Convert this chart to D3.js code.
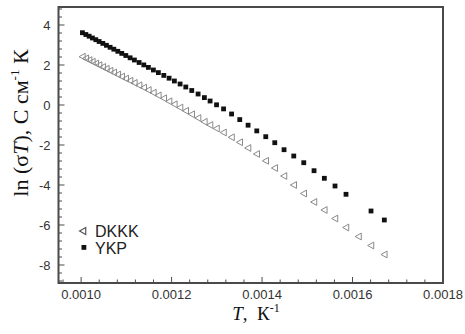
<!DOCTYPE html>
<html>
<head>
<meta charset="utf-8">
<script src="https://cdn.jsdelivr.net/npm/d3@7"></script>
<style>
  html, body { margin: 0; padding: 0; background: #fff; }
  svg { display: block; }
</style>
</head>
<body>
<div id="chart"></div>
<script>
// reciprocal temperature, 1/T (K^-1)
const invT = [
  0.0010029, 0.0010104, 0.0010177, 0.0010250, 0.0010325, 0.0010398, 0.0010480,
  0.0010559, 0.0010641, 0.0010723, 0.0010811, 0.0010899, 0.0010988, 0.0011083,
  0.0011178, 0.0011282, 0.0011386, 0.0011487, 0.0011598, 0.0011708, 0.0011828,
  0.0011945, 0.0012062, 0.0012188, 0.0012314, 0.0012446, 0.0012586, 0.0012725,
  0.0012851, 0.0012994, 0.0013149, 0.0013326, 0.0013507, 0.0013691, 0.0013883,
  0.0014082, 0.0014281, 0.0014486, 0.0014701, 0.0014922, 0.0015149, 0.0015377,
  0.0015613, 0.0015856, 0.0016133, 0.0016409, 0.0016703
];

// ln(sigma T), YKP (filled squares); null = no point
const ykp = [
  3.615, 3.525, 3.44, 3.35, 3.265, 3.175, 3.08, 2.985, 2.885, 2.79, 2.685,
  2.58, 2.475, 2.36, 2.25, 2.125, 2.005, 1.88, 1.75, 1.62, 1.48, 1.34, 1.2,
  1.05, 0.9, 0.725, 0.55, 0.37, 0.2, 0.01, -0.195, -0.45, -0.73, -1.01, -1.295,
  -1.585, -1.885, -2.235, -2.55, -2.885, -3.285, -3.665, -4.05, -4.465, null,
  -5.3, -5.75
];

// ln(sigma T), DKKK (open triangles)
const dkkk = [
  2.415, 2.33, 2.245, 2.165, 2.075, 1.995, 1.9, 1.81, 1.715, 1.625, 1.525,
  1.42, 1.32, 1.215, 1.105, 0.985, 0.87, 0.75, 0.615, 0.48, 0.335, 0.185, 0.035,
  -0.125, -0.29, -0.465, -0.65, -0.84, -1.0, -1.175, -1.375, -1.615, -1.865, -2.15,
  -2.45, -2.79, -3.15, -3.55, -4.0, -4.425, -4.85, -5.25, -5.675, -6.125,
  -6.575, -7.025, -7.475
];

const xTicks = [0.0010, 0.0012, 0.0014, 0.0016, 0.0018];
const yTicks = [-8, -6, -4, -2, 0, 2, 4];
const legendNames = ['DKKK', 'YKP'];

const
  WIDTH = 465,
  HEIGHT = 334,
  SANS = '"Liberation Sans", Arial, sans-serif',
  SERIF = '"Liberation Serif", "Times New Roman", serif',
  AXIS_COLOR = '#4a4a4a',
  TRI_COLOR = '#8a8a8a',
  SQ = 4.8;

const margin = { left: 58.5, right: 22, top: 7, bottom: 51 };

const svg = d3.select('#chart')
  .append('svg')
  .attr('width', WIDTH)
  .attr('height', HEIGHT);

const x = d3.scaleLinear()
  .domain([0.00095, 0.0018])
  .range([margin.left, WIDTH - margin.right]);

const y = d3.scaleLinear()
  .domain([-8.9, 4.9])
  .range([HEIGHT - margin.bottom, margin.top]);

function addAxes() {
  const x0 = x.range()[0], x1 = x.range()[1];
  const y0 = y.range()[0], y1 = y.range()[1];

  // minor ticks, majors drawn a bit longer
  const xMinor = d3.range(0.00096, 0.00180001, 0.00004);
  const yMinor = d3.range(-8.8, 4.80001, 0.4);

  const ticks = svg.append('g')
    .attr('stroke', AXIS_COLOR)
    .attr('stroke-width', 1);

  ticks.selectAll('.xminor')
    .data(xMinor)
    .enter()
    .append('line')
    .attr('x1', d => x(d)).attr('x2', d => x(d))
    .attr('y1', y0).attr('y2', d => {
      const major = xTicks.some(t => Math.abs(t - d) < 1e-7);
      return y0 - (major ? 6 : 3.5);
    });

  ticks.selectAll('.yminor')
    .data(yMinor)
    .enter()
    .append('line')
    .attr('y1', d => y(d)).attr('y2', d => y(d))
    .attr('x1', x0).attr('x2', d => {
      const major = yTicks.some(t => Math.abs(t - d) < 1e-6);
      return x0 + (major ? 6 : 3.5);
    });

  // frame
  svg.append('rect')
    .attr('x', x0)
    .attr('y', y1)
    .attr('width', x1 - x0)
    .attr('height', y0 - y1)
    .attr('fill', 'none')
    .attr('stroke', AXIS_COLOR)
    .attr('stroke-width', 2);

  svg.append('g')
    .selectAll('text')
    .data(xTicks)
    .enter()
    .append('text')
    .attr('x', d => x(d))
    .attr('y', y0 + 16)
    .attr('text-anchor', 'middle')
    .attr('font-family', SANS)
    .attr('font-size', 13)
    .attr('fill', '#333')
    .text(d => d3.format('.4f')(d));

  svg.append('g')
    .selectAll('text')
    .data(yTicks)
    .enter()
    .append('text')
    .attr('x', x0 - 8)
    .attr('y', d => y(d))
    .attr('dy', '0.35em')
    .attr('text-anchor', 'end')
    .attr('font-family', SANS)
    .attr('font-size', 13)
    .attr('fill', '#333')
    .text(d => d);
}

function addTitles() {
  const xt = svg.append('text')
    .attr('x', 256)
    .attr('y', 320)
    .attr('text-anchor', 'middle')
    .attr('font-family', SERIF)
    .attr('font-size', 19)
    .attr('fill', '#111');
  xt.append('tspan').attr('font-style', 'italic').text('T');
  xt.append('tspan').text(',\u00a0 К');
  xt.append('tspan').attr('font-size', 12).attr('dy', -8).text('-1');

  const yt = svg.append('text')
    .attr('transform', 'translate(28,123) rotate(-90)')
    .attr('text-anchor', 'middle')
    .attr('font-family', SERIF)
    .attr('font-size', 22)
    .attr('fill', '#111');
  yt.append('tspan').text('ln (σ');
  yt.append('tspan').attr('font-style', 'italic').text('T');
  yt.append('tspan').text('), С см');
  yt.append('tspan').attr('font-size', 13).attr('dy', -9).text('-1');
  yt.append('tspan').attr('dy', 9).text(' К');
}

function triangle(cx, cy, s) {
  // left-pointing open triangle
  return `M${cx - s},${cy} L${cx + s * 0.8},${cy - s} L${cx + s * 0.8},${cy + s} Z`;
}

function addPoints() {
  const triData = invT.map((t, i) => ({ t, v: dkkk[i] }));
  const sqData = invT.map((t, i) => ({ t, v: ykp[i] })).filter(d => d.v !== null);

  svg.append('g')
    .selectAll('path')
    .data(triData)
    .enter()
    .append('path')
    .attr('d', d => triangle(x(d.t), y(d.v), 3.4))
    .attr('fill', 'none')
    .attr('stroke', TRI_COLOR)
    .attr('stroke-width', 1);

  svg.append('g')
    .selectAll('rect')
    .data(sqData)
    .enter()
    .append('rect')
    .attr('x', d => x(d.t) - SQ / 2)
    .attr('y', d => y(d.v) - SQ / 2)
    .attr('width', SQ)
    .attr('height', SQ)
    .attr('fill', '#111');
}

function addLegend() {
  const lg = svg.append('g')
    .attr('font-family', SANS)
    .attr('font-size', 16)
    .attr('fill', '#222');

  lg.append('path')
    .attr('d', triangle(83, 231, 3.4))
    .attr('fill', 'none')
    .attr('stroke', '#555')
    .attr('stroke-width', 1.2);
  lg.append('rect')
    .attr('x', 81.5).attr('y', 245)
    .attr('width', SQ).attr('height', SQ)
    .attr('fill', '#111');

  lg.selectAll('text')
    .data(legendNames)
    .enter()
    .append('text')
    .attr('x', 95)
    .attr('y', (d, i) => 231 + i * 17)
    .attr('dy', '0.36em')
    .text(d => d);
}

addAxes();
addPoints();
addLegend();
addTitles();
</script>
</body>
</html>
